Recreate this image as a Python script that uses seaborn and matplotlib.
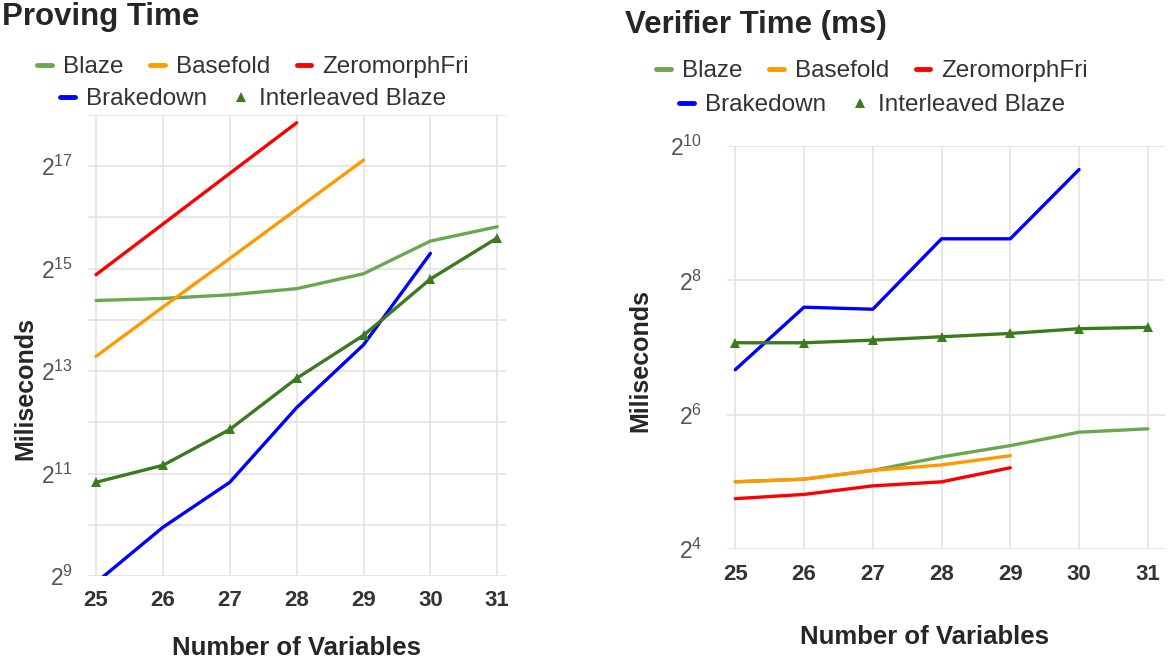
import matplotlib
matplotlib.use("Agg")
import matplotlib.pyplot as plt
from matplotlib.lines import Line2D
import seaborn as sns
import numpy as np
import pandas as pd

# number of variables on the x axis
n_vars = [25, 26, 27, 28, 29, 30, 31]

# proving time (ms)
prove_blaze = [21300, 21900, 23000, 25000, 30600, 47600, 57800]
prove_basefold = [10000, 19500, 37600, 73200, 142400]
prove_zeromorph = [30200, 59900, 119000, 236000]
prove_brakedown = [468, 990, 1820, 5000, 11700, 40300]
prove_interleaved = [1820, 2290, 3720, 7430, 13300, 28500, 49700]

# verifier time (ms)
verify_blaze = [32.0, 32.9, 36.0, 41.4, 46.5, 53.4, 55.3]
verify_basefold = [32.0, 32.9, 36.0, 38.1, 41.9]
verify_zeromorph = [26.9, 28.1, 30.7, 32.0, 37.0]
verify_brakedown = [101.8, 194, 190, 393, 393, 803]
verify_interleaved = [134.4, 134.4, 138.1, 143, 148, 155.4, 157.6]

schemes = ["Blaze", "Basefold", "ZeromorphFri", "Brakedown", "Interleaved Blaze"]
colors = {"Blaze": "#6aa84f", "Basefold": "#ff9900", "ZeromorphFri": "#ff0000",
          "Brakedown": "#0000ff", "Interleaved Blaze": "#3c7a1e"}

prove_exp_ticks = list(range(9, 19))
verify_exp_ticks = [4, 6, 8, 10]


def long_frame(series):
    rows = []
    for name, vals in zip(schemes, series):
        for x, v in zip(n_vars, vals):
            rows.append({"vars": x, "ms": v, "scheme": name})
    return pd.DataFrame(rows)


df_prove = long_frame([prove_blaze, prove_basefold, prove_zeromorph,
                       prove_brakedown, prove_interleaved])
df_verify = long_frame([verify_blaze, verify_basefold, verify_zeromorph,
                        verify_brakedown, verify_interleaved])

sns.set_theme(style="white")
plt.rcParams['font.family'] = ['Liberation Sans', 'DejaVu Sans']
plt.rcParams['mathtext.default'] = 'regular'

fig = plt.figure(figsize=(11.68, 6.6), dpi=100)
ax1 = fig.add_axes([88 / 1168, 1 - 576 / 660, (506 - 88) / 1168, (576 - 115) / 660])
ax2 = fig.add_axes([727 / 1168, 1 - 549 / 660, (1165 - 727) / 1168, (549 - 146) / 660])


def draw(ax, df):
    for name in schemes:
        sub = df[df.scheme == name]
        marker = "^" if name == "Interleaved Blaze" else None
        sns.lineplot(data=sub, x="vars", y="ms", ax=ax, color=colors[name],
                     lw=2.4, marker=marker, markersize=7, markeredgewidth=0,
                     legend=False, zorder=3)
    ax.set_yscale("log", base=2)
    ax.set_xticks(n_vars)
    ax.set_xticklabels([str(v) for v in n_vars], fontsize=16,
                       fontweight="bold", color="#333333")
    ax.grid(True, color="#e3e3e3", lw=1.2)
    ax.minorticks_off()
    for s in ax.spines.values():
        s.set_visible(False)
    ax.set_xlabel("")
    ax.set_ylabel("")


draw(ax1, df_prove)
ax1.set_xlim(24.88, 31.13)
ax1.set_ylim(2 ** 9, 2 ** 18)
ax1.set_yticks([2 ** e for e in prove_exp_ticks])
ax1.set_yticklabels([f"$2^{{{e}}}$" if e % 2 == 1 and e < 18 else "" for e in prove_exp_ticks],
                    fontsize=16.5, color="#555555")
ax1.tick_params(axis="y", length=0, pad=11)
ax1.tick_params(axis="x", length=0, pad=10)

draw(ax2, df_verify)
ax2.set_xlim(24.88, 31.25)
ax2.set_ylim(2 ** 4, 2 ** 10)
ax2.set_yticks([2 ** e for e in verify_exp_ticks])
ax2.set_yticklabels([f"$2^{{{e}}}$" for e in verify_exp_ticks], fontsize=16.5, color="#555555")
ax2.tick_params(axis="y", length=0, pad=18)
ax2.tick_params(axis="x", length=0, pad=11)

# titles and axis labels
fig.text(0.002, 0.974, "Proving Time", fontsize=22.5, fontweight="bold", ha="left", va="center")
fig.text(625 / 1168, 0.962, "Verifier Time (ms)", fontsize=22.5, fontweight="bold", ha="left", va="center")
fig.text(297 / 1168, 1 - 648 / 660, "Number of Variables", fontsize=18.5, fontweight="bold",
         ha="center", va="center")
fig.text(925 / 1168, 1 - 637 / 660, "Number of Variables", fontsize=18.5, fontweight="bold",
         ha="center", va="center")
fig.text(25 / 1168, 1 - 388 / 660, "Miliseconds", rotation=90, fontsize=18, fontweight="bold",
         ha="center", va="center")
fig.text(640 / 1168, 1 - 361 / 660, "Miliseconds", rotation=90, fontsize=18, fontweight="bold",
         ha="center", va="center")


def handle(name):
    if name == "Interleaved Blaze":
        return Line2D([], [], color=colors[name], marker="^", markersize=7, lw=0, markeredgewidth=0)
    return Line2D([], [], color=colors[name], lw=3.5)


def add_legend(cx, y1, y2):
    row1 = schemes[:3]
    row2 = schemes[3:]
    kw = dict(loc="center", frameon=False, fontsize=17.5, handlelength=0.6,
              handletextpad=0.45, columnspacing=1.1, labelcolor="#333333")
    fig.legend([handle(n) for n in row1], row1, ncol=3, bbox_to_anchor=(cx, y1), **kw)
    fig.legend([handle(n) for n in row2], row2, ncol=2, bbox_to_anchor=(cx, y2), **kw)


add_legend(253 / 1168, 1 - 67 / 660, 1 - 99 / 660)
add_legend(872 / 1168, 1 - 71 / 660, 1 - 105 / 660)

fig.savefig("out.png", dpi=100)
plt.close(fig)
